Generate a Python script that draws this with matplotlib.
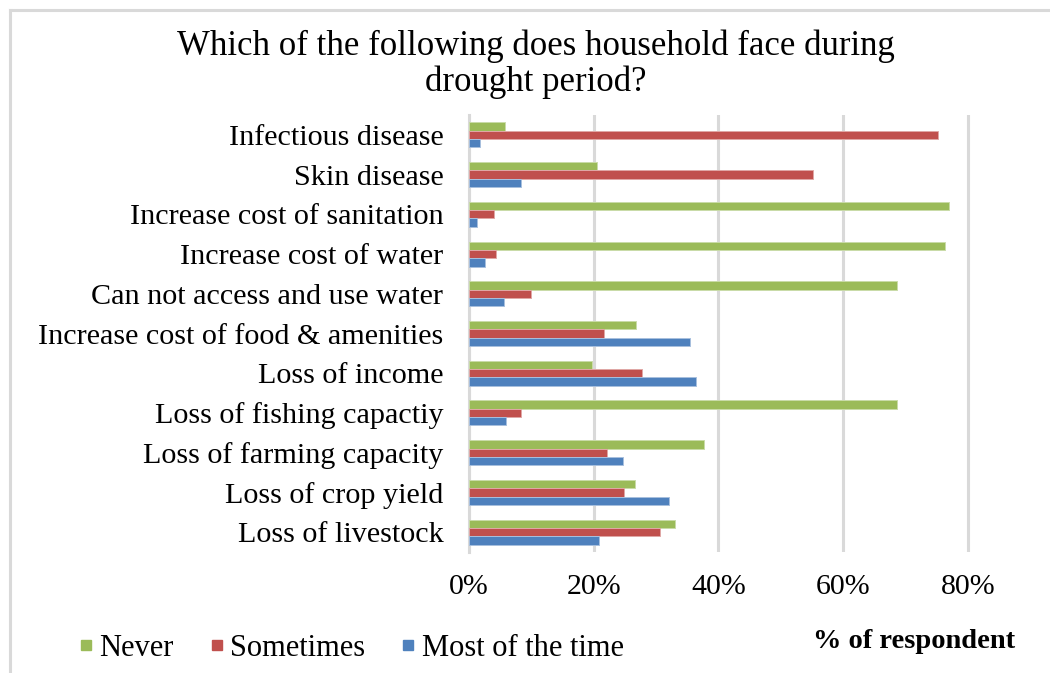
import matplotlib
matplotlib.use("Agg")
import matplotlib.pyplot as plt
from matplotlib.lines import Line2D
import numpy as np

categories = ["Loss of livestock", "Loss of crop yield", "Loss of farming capacity",
              "Loss of fishing capactiy", "Loss of income",
              "Increase cost of food & amenities", "Can not access and use water",
              "Increase cost of water", "Increase cost of sanitation",
              "Skin disease", "Infectious disease"]
never = [33.0, 26.6, 37.7, 68.7, 19.8, 26.8, 68.7, 76.3, 77.0, 20.6, 5.8]
sometimes = [30.6, 24.9, 22.2, 8.4, 27.7, 21.6, 10.0, 4.4, 4.0, 55.2, 75.2]
most_time = [20.9, 32.1, 24.7, 6.0, 36.4, 35.5, 5.6, 2.5, 1.3, 8.4, 1.8]
series_names = ["Never", "Sometimes", "Most of the time"]
colors = ["#9BBB59", "#C0504D", "#4F81BD"]
edge_colors = ["#C9DBA8", "#E0A8A6", "#A8C0DE"]
xticks = [0, 20, 40, 60, 80]

plt.rcParams['font.family'] = ['Liberation Serif', 'DejaVu Serif']

W, H = 1050, 673
fig = plt.figure(figsize=(W / 100, H / 100), dpi=100)
x0, x1 = 469, 469 + 90 * 6.235
y0, y1 = 115, 552
ax = fig.add_axes([x0 / W, 1 - y1 / H, (x1 - x0) / W, (y1 - y0) / H])

y = np.arange(len(categories))
h = 0.21
for i, (vals, c, ec, name) in enumerate(zip([never, sometimes, most_time], colors,
                                            edge_colors, series_names)):
    ax.barh(y + (1 - i) * h, np.array(vals) / 100, height=h, color=c,
            edgecolor=ec, linewidth=0.7, label=name, zorder=3)

ax.set_xlim(0, 0.9)
ax.set_ylim(-0.5, len(categories) - 0.5)
ax.set_xticks([v / 100 for v in xticks])
ax.set_xticklabels([f"{v}%" for v in xticks], fontsize=21.5)
ax.set_yticks(y)
ax.set_yticklabels(categories, fontsize=21.7)
ax.tick_params(axis='both', length=0, colors="#000000")
ax.tick_params(axis='x', pad=16)
ax.tick_params(axis='y', pad=18.5)
ax.grid(axis='x', color="#D9D9D9", linewidth=2.2, zorder=0)
for s in ["top", "right", "bottom"]:
    ax.spines[s].set_visible(False)
ax.spines["left"].set_color("#D9D9D9")
ax.spines["left"].set_linewidth(2.2)
ax.spines["left"].set_zorder(1)

fig.text(536 / W, 1 - 64 / H, "Which of the following does household face during\ndrought period?",
         ha="center", va="center", fontsize=25, linespacing=1.1)

fig.text(1015 / W, 1 - 642 / H, "% of respondent", ha="right", va="center",
         fontsize=20.5, fontweight="bold")

handles = [Line2D([], [], marker="s", linestyle="none", markersize=7,
                  markerfacecolor=c, markeredgecolor=c) for c in colors]
fig.legend(handles, series_names, loc="center left", bbox_to_anchor=(78 / W, 1 - 648 / H),
           ncol=3, frameon=False, fontsize=22, handlelength=0.5, handletextpad=0.2,
           columnspacing=1.15, borderaxespad=0, borderpad=0)

# chart border (left and top visible)
fig.add_artist(Line2D([10 / W, 10 / W], [0, 1 - 10 / H], transform=fig.transFigure,
                      color="#D9D9D9", linewidth=2.2))
fig.add_artist(Line2D([10 / W, 1], [1 - 10 / H, 1 - 10 / H], transform=fig.transFigure,
                      color="#D9D9D9", linewidth=2.2))

fig.savefig("out.png", dpi=100, facecolor="white")
